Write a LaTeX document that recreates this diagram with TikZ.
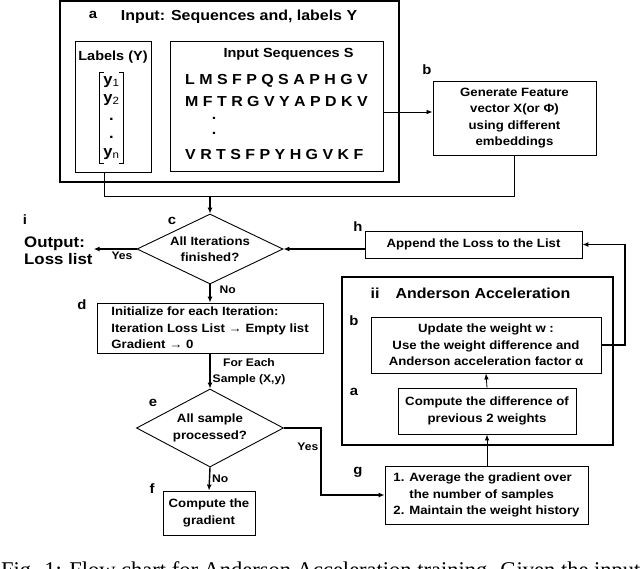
\documentclass[tikz,border=0pt]{standalone}
\usepackage{fontspec}
\setmainfont{Liberation Sans}[FakeStretch=1.1]
\newfontfamily\capfont{Liberation Serif}
\usetikzlibrary{shapes.geometric,arrows.meta}

\newcommand{\boxfont}{\bfseries\fontsize{12}{16.5}\selectfont}
\newcommand{\notefont}{\bfseries\fontsize{11}{16}\selectfont}

\tikzset{
  box/.style={draw,line width=0.9pt,inner sep=0pt,align=center,font=\boxfont},
  frame/.style={draw,line width=1.5pt,inner sep=0pt},
  decision/.style={diamond,draw,line width=0.9pt,inner sep=0pt,aspect=2,align=center,font=\boxfont},
  tag/.style={font=\bfseries\fontsize{13.5}{14}\selectfont,inner sep=0pt},
  headline/.style={font=\bfseries\fontsize{14.5}{16}\selectfont,inner sep=0pt},
  subhead/.style={font=\bfseries\fontsize{13.2}{16}\selectfont,inner sep=0pt},
  seqrow/.style={font=\bfseries\fontsize{14.5}{16}\selectfont,inner sep=0pt,anchor=base west},
  note/.style={font=\notefont,inner sep=2pt},
  flow/.style={line width=1.4pt,-{Latex[length=6pt,width=5pt]}},
  thin/.style={line width=0.8pt},
  thinflow/.style={line width=0.8pt,-{Latex[length=6pt,width=4.5pt]}}
}

\begin{document}
\begin{tikzpicture}[x=1pt,y=-1pt]
  \useasboundingbox (0,0) rectangle (640,568);

  % Input block
  \node[frame,minimum width=339pt,minimum height=181pt] (inp) at (229.5,91.5) {};
  \node[tag] (ta) at (93,15) {a};
  \node[headline] (intitle) at (239,17) {Input: Sequences and, labels Y};

  \node[box,minimum width=76pt,minimum height=131pt] (lab) at (113,106.5) {};
  \node[subhead] (labtitle) at (113,57) {Labels (Y)};
  \node[inner sep=0pt,minimum width=23pt,minimum height=90pt,align=center,
        font=\bfseries\fontsize{15}{18}\selectfont] (vec) at (111.5,118)
       {y\textsubscript{\mdseries 1}\\y\textsubscript{\mdseries 2}\\.\\.\\y\textsubscript{\mdseries n}};
  \draw[thin] ([xshift=4pt]vec.north west) -- (vec.north west) -- (vec.south west) -- ([xshift=4pt]vec.south west);
  \draw[thin] ([xshift=-4pt]vec.north east) -- (vec.north east) -- (vec.south east) -- ([xshift=-4pt]vec.south east);

  \node[box,minimum width=213pt,minimum height=130pt] (seq) at (276.5,106) {};
  \node[subhead] (seqtitle) at (288.5,54) {Input Sequences S};
  \node[seqrow] (s1) at (185,84) {L M S F P Q S A P H G V};
  \node[seqrow] (s2) at (185,106) {M F T R G V Y A P D K V};
  \foreach \y in {119,134}
    \node[seqrow,anchor=base] at (214,\y) {.};
  \node[seqrow] (s3) at (185,159) {V R T S F P Y H G V K F};

  % Feature vector
  \node[tag] (tb) at (427,70) {b};
  \node[box,minimum width=163pt,minimum height=74pt] (feat) at (514.5,118)
       {Generate Feature\\vector X(or Φ)\\using different\\embeddings};
  \draw[thinflow] ([yshift=-6pt]seq.east) -- ([yshift=-6pt]seq.east -| feat.west);

  % Join into the loop
  \coordinate (j1) at (104,196);
  \coordinate (j2) at (514,196);
  \draw[thin] (lab.south -| j1) -- (j1) -- (j2) -- (feat.south -| j2);

  % Main loop
  \node[tag] (tc) at (172,221) {c};
  \node[decision,minimum width=146pt,minimum height=70pt] (iter) at (210,249)
       {All Iterations\\finished?};
  \draw[flow] (j1 -| iter.north) -- (iter.north);

  \node[tag] (ti) at (25,220) {i};
  \node[anchor=west,align=left,inner sep=1pt,font=\bfseries\fontsize{15.3}{17}\selectfont] (out) at (23,251)
       {Output:\\Loss list};
  \draw[flow] (iter.west) -- (iter.west -| out.east) node[note,below,pos=0.34] {Yes};

  \node[tag] (th) at (358,227) {h};
  \node[box,minimum width=217pt,minimum height=27pt] (app) at (473.5,244.5)
       {Append the Loss to the List};
  \draw[flow] (app.west |- iter.east) -- (iter.east);

  \node[tag] (td) at (82,305) {d};
  \node[box,minimum width=226pt,minimum height=50pt,align=left] (init) at (210,328)
       {Initialize for each Iteration:\\Iteration Loss List → Empty list\\Gradient → 0};
  \draw[flow] (iter.south) -- (init.north) node[note,right=7pt,pos=0.3] {No};

  \node[tag] (te) at (153,403) {e};
  \node[decision,aspect=1.9,minimum width=147pt,minimum height=78pt] (samp) at (210,428)
       {All sample\\processed?};
  \draw[flow] (init.south) -- (samp.north)
       node[note,right,pos=0.52,align=center] {For Each\\Sample (X,y)};

  \node[tag] (tf) at (152,489) {f};
  \node[box,minimum width=92pt,minimum height=44pt] (grad) at (209,513)
       {Compute the\\gradient};
  \draw[flow] (samp.south) -- (grad.north) node[note,right,pos=0.5] {No};

  % Anderson acceleration
  \node[frame,minimum width=271pt,minimum height=168pt] (aa) at (477.5,361) {};
  \node[headline] (tii) at (375,293) {ii};
  \node[headline] (aatitle) at (483,293) {Anderson Acceleration};

  \node[tag] (tb2) at (354,321) {b};
  \node[box,minimum width=230pt,minimum height=56pt] (upd) at (486,345)
       {Update the weight w :\\Use the weight difference and\\Anderson acceleration factor α};
  \node[tag] (ta2) at (354,392) {a};
  \node[box,minimum width=178pt,minimum height=46pt] (diff) at (487,411)
       {Compute the difference of\\previous 2 weights};
  \draw[thinflow] (diff.north) -- (upd.south);

  \node[tag] (tg) at (358,472) {g};
  \node[box,minimum width=203pt,minimum height=58pt,align=left] (avg) at (486.5,495)
       {1. Average the gradient over\\\phantom{1. }the number of samples\\2. Maintain the weight history};
  \draw[thinflow] (avg.north -| diff.south) -- (diff.south);

  \coordinate (k) at (321,495);
  \draw[flow] (samp.east) -| (k) node[note,left,pos=0.64] {Yes} -- (avg.west);

  \coordinate (m) at (625,300);
  \draw[line width=1.1pt,-{Latex[length=6pt,width=5pt]}] (upd.east) -| (m) |- (app.east);

  % Caption
  \node[anchor=base west,inner sep=0pt,font=\capfont\fontsize{22.5}{23}\selectfont] (cap) at (1,577)
       {Fig. 1: Flow chart for Anderson Acceleration training. Given the input};
\end{tikzpicture}
\end{document}
